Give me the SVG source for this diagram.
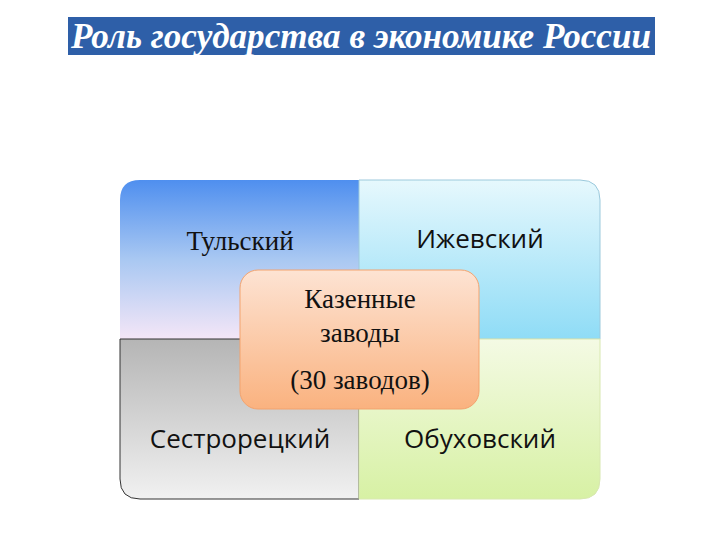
<svg xmlns="http://www.w3.org/2000/svg" width="720" height="540" viewBox="0 0 720 540">
<defs>
<linearGradient id="gTL" x1="0" y1="0" x2="0" y2="1"><stop offset="0" stop-color="#4f8fef"/><stop offset="0.5" stop-color="#a9c8f2"/><stop offset="1" stop-color="#f4e6f7"/></linearGradient>
<linearGradient id="gTR" x1="0" y1="0" x2="0" y2="1"><stop offset="0" stop-color="#e6f8fd"/><stop offset="1" stop-color="#8fdcf6"/></linearGradient>
<linearGradient id="gBL" x1="0" y1="0" x2="0" y2="1"><stop offset="0" stop-color="#b5b5b5"/><stop offset="1" stop-color="#f1f1f1"/></linearGradient>
<linearGradient id="gBR" x1="0" y1="0" x2="0" y2="1"><stop offset="0" stop-color="#f4fae4"/><stop offset="1" stop-color="#d7f1a4"/></linearGradient>
<linearGradient id="gC" x1="0" y1="0" x2="0" y2="1"><stop offset="0" stop-color="#fde3d3"/><stop offset="1" stop-color="#fab27f"/></linearGradient>
</defs>
<style>
.q{stroke-width:1}
.s{font-family:"Liberation Serif",serif;font-size:27px;fill:#111;text-anchor:middle}
.n{font-family:"Open Sans","DejaVu Sans",sans-serif;font-size:26px;fill:#111;text-anchor:middle}
</style>
<g id="title">
<rect x="68" y="17" width="587" height="38" fill="#2e5fa8"/>
<text x="361" y="48" font-family="Liberation Serif,serif" font-weight="bold" font-style="italic" font-size="36" fill="#fff" text-anchor="middle" textLength="580" lengthAdjust="spacingAndGlyphs">Роль государства в экономике России</text>
</g>
<g id="connectors"/>
<g id="tl"><path d="M120,339 V200 Q120,180 140,180 H359 V339 Z" fill="url(#gTL)"/><text class="s" x="240" y="250">Тульский</text></g>
<g id="tr"><path d="M359,180 H580 Q600,180 600,200 V339 H359 Z" fill="url(#gTR)" stroke="#9cc9dc" class="q"/><text class="n" x="480" y="248">Ижевский</text></g>
<g id="bl"><path d="M120,339 H359 V499 H140 Q120,499 120,479 Z" fill="url(#gBL)" stroke="#333" class="q"/><text class="n" x="240" y="448">Сестрорецкий</text></g>
<g id="br"><path d="M359,339 H600 V479 Q600,499 580,499 H359 Z" fill="url(#gBR)" stroke="#d8e8b0" class="q"/><text class="n" x="480" y="448">Обуховский</text></g>
<g id="center"><rect x="240" y="270" width="239" height="139" rx="18" fill="url(#gC)" stroke="#f3a36e"/>
<text class="s" x="360" y="308">Казенные</text><text class="s" x="360" y="342">заводы</text><text class="s" x="360" y="389">(30 заводов)</text></g>
</svg>
